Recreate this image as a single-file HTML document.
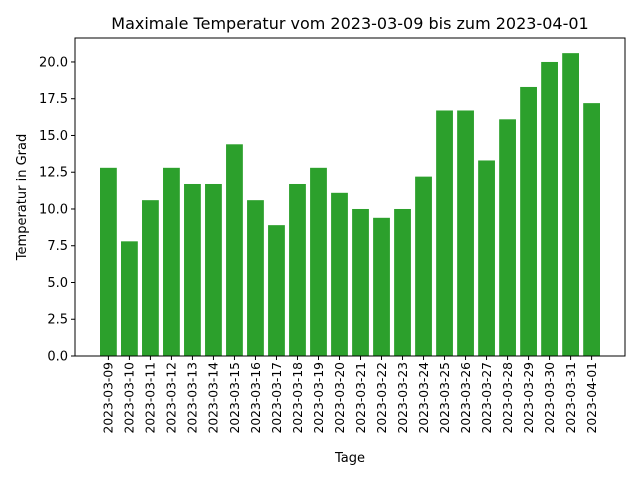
<!DOCTYPE html>
<html><head><meta charset="utf-8"><style>
body{margin:0;background:#fff;font-family:"Liberation Sans","DejaVu Sans",sans-serif;}
</style></head><body>
<svg id="chart" width="640" height="480" xmlns="http://www.w3.org/2000/svg" font-family="'DejaVu Sans','Liberation Sans',sans-serif">
<rect width="640" height="480" fill="#fff"/>
<text x="350" y="29" font-size="16" text-anchor="middle">Maximale Temperatur vom 2023-03-09 bis zum 2023-04-01</text>
<g id="bars"></g><g id="xticks"></g><g id="yticks"></g>
<rect x="75" y="38" width="550" height="318" fill="none" stroke="#000" stroke-width="1"/>
<text x="350" y="462" font-size="13" text-anchor="middle">Tage</text>
<text transform="translate(26,197) rotate(-90)" font-size="13" text-anchor="middle">Temperatur in Grad</text>
</svg>
<script>
const categories=["2023-03-09","2023-03-10","2023-03-11","2023-03-12","2023-03-13","2023-03-14","2023-03-15","2023-03-16","2023-03-17","2023-03-18","2023-03-19","2023-03-20","2023-03-21","2023-03-22","2023-03-23","2023-03-24","2023-03-25","2023-03-26","2023-03-27","2023-03-28","2023-03-29","2023-03-30","2023-03-31","2023-04-01"];
const values=[12.8,7.8,10.6,12.8,11.7,11.7,14.4,10.6,8.9,11.7,12.8,11.1,10.0,9.4,10.0,12.2,16.7,16.7,13.3,16.1,18.3,20.0,20.6,17.2];
const yTicks=[0,2.5,5,7.5,10,12.5,15,17.5,20];
const yTickLabels=["0.0","2.5","5.0","7.5","10.0","12.5","15.0","17.5","20.0"];
const NS="http://www.w3.org/2000/svg";
const L=75,R=625,T=38,B=356;
const n=categories.length;
const xmin=-0.4-0.05*(n-0.2),xmax=n-0.6+0.05*(n-0.2);
const ymax=Math.max(...values)*1.05;
const x=v=>L+(v-xmin)/(xmax-xmin)*(R-L);
const y=v=>B-v/ymax*(B-T);
const mk=(t,a)=>{const e=document.createElementNS(NS,t);for(const k in a)e.setAttribute(k,a[k]);return e;};
const gb=document.getElementById('bars'),gx=document.getElementById('xticks'),gy=document.getElementById('yticks');
values.forEach((v,i)=>{
 const r=mk('rect',{x:x(i-0.4),y:y(v),width:x(0.4)-x(-0.4),height:B-y(v),fill:'#2ca02c'});
 
 
 gb.appendChild(r);
});
categories.forEach((c,i)=>{
 const cx=x(i);
 const l=mk('line',{x1:cx,x2:cx,y1:B,y2:B+4,stroke:'#000'});
 gx.appendChild(l);
 const t=mk('text',{transform:`translate(${cx+4.3},${B+6}) rotate(-90)`,'font-size':12.3,'text-anchor':'end'});
 
 
 t.textContent=c;gx.appendChild(t);
});
yTicks.forEach((v,i)=>{
 const yy=y(v);
 gy.appendChild(mk('line',{x1:L-4,x2:L,y1:yy,y2:yy,stroke:'#000'}));
 const t=mk('text',{x:L-7,y:yy+4.5,'font-size':13,'text-anchor':'end'});
 
 
 t.textContent=yTickLabels[i];gy.appendChild(t);
});
</script>
</body></html>
